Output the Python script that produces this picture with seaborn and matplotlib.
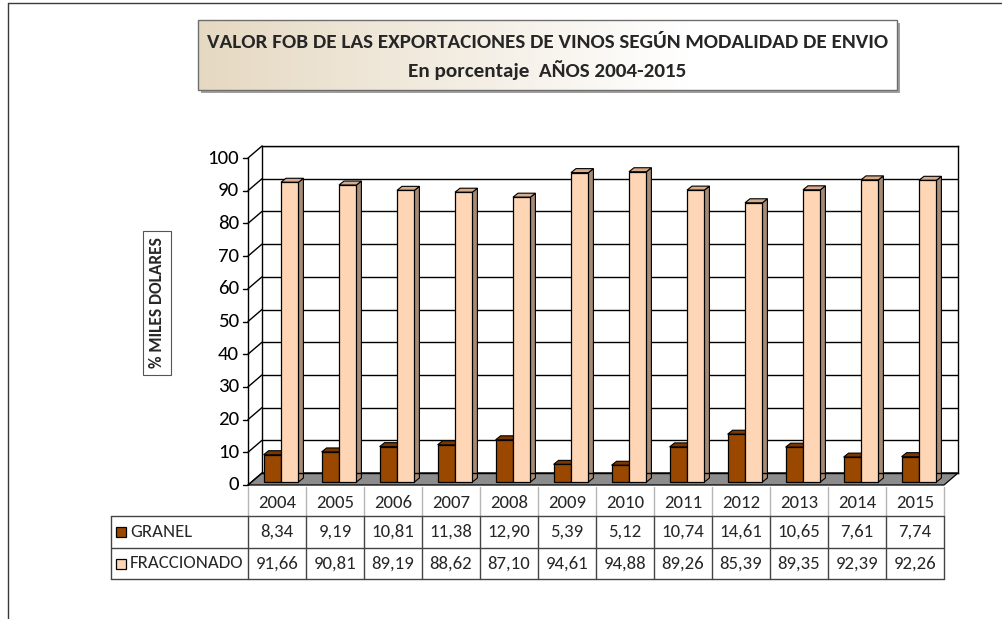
import matplotlib
matplotlib.use('Agg')
import matplotlib.pyplot as plt
import seaborn as sns
import pandas as pd
import numpy as np
from matplotlib import font_manager
from matplotlib.patches import Polygon, Rectangle
from matplotlib.transforms import ScaledTranslation
from matplotlib.colors import to_hex

# ---------------- data ----------------
years = ['2004', '2005', '2006', '2007', '2008', '2009', '2010', '2011', '2012', '2013', '2014', '2015']
granel = [8.34, 9.19, 10.81, 11.38, 12.90, 5.39, 5.12, 10.74, 14.61, 10.65, 7.61, 7.74]
fraccionado = [91.66, 90.81, 89.19, 88.62, 87.10, 94.61, 94.88, 89.26, 85.39, 89.35, 92.39, 92.26]
series = ['GRANEL', 'FRACCIONADO']
yticks = list(range(0, 101, 10))
title1 = 'VALOR FOB DE LAS EXPORTACIONES DE VINOS SEGÚN MODALIDAD DE ENVIO'
title2 = 'En porcentaje  AÑOS 2004-2015'
ylabel = '% MILES DOLARES'

# ---------------- style ----------------
c_gran = '#9a4800'
c_frac = '#ffd6b5'
top_col = {to_hex(c_gran): '#7a3700', to_hex(c_frac): '#d8ab8b'}
side_col = {to_hex(c_gran): '#6a3000', to_hex(c_frac): '#a68b77'}

sns.set_theme(style='white')
avail = {f.name for f in font_manager.fontManager.ttflist}
fam = next((f for f in ['Carlito', 'Liberation Sans Narrow', 'Liberation Sans'] if f in avail), 'DejaVu Sans')
plt.rcParams['font.family'] = [fam, 'DejaVu Sans']

W, H = 1003, 619
fig = plt.figure(figsize=(W / 100, H / 100), dpi=100)
fig.patch.set_facecolor('white')


def fx(x):
    return x / W


def fy(y):
    return 1 - y / H


# back wall geometry (pixels)
L, R, T, B = 262, 958, 146, 473
DX, DY = 14, 12  # 3D depth of the chart floor/side wall

ax = fig.add_axes([fx(L), fy(B), (R - L) / W, (B - T) / H])
df = pd.DataFrame({
    'year': years * 2,
    'value': granel + fraccionado,
    'serie': [series[0]] * len(years) + [series[1]] * len(years),
})
sns.barplot(data=df, x='year', y='value', hue='serie', palette=[c_gran, c_frac],
            saturation=1, width=0.6, edgecolor='black', linewidth=0.9,
            legend=False, ax=ax, zorder=3)

ax.set_xlim(-0.5, len(years) - 0.5)
ax.set_ylim(0, 100)
ax.set_yticks(yticks)
ax.tick_params(left=False, bottom=False, labelleft=False, labelbottom=False)
ax.set_xlabel('')
ax.set_ylabel('')
ax.grid(axis='y', color='black', lw=1, zorder=0.5)
ax.grid(axis='x', visible=False)
ax.set_axisbelow(True)
for s in ax.spines.values():
    s.set_visible(True)
    s.set_color('black')
    s.set_linewidth(1)

xu = len(years) / (R - L)   # data units per pixel (x)
yu = 100 / (B - T)          # data units per pixel (y)

# shift bars toward the viewer (3D look)
off_bar = ScaledTranslation(-10 / 100, -9 / 100, fig.dpi_scale_trans)
tr_bar = ax.transData + off_bar
dxd, dyd = 5 * xu, 4 * yu
for p in list(ax.patches):
    p.set_transform(tr_bar)
    p.set_clip_on(False)
    x0, w, h = p.get_x(), p.get_width(), p.get_height()
    key = to_hex(p.get_facecolor())
    tc = top_col.get(key, '#888888')
    sc = side_col.get(key, '#666666')
    top = Polygon([(x0, h), (x0 + w, h), (x0 + w + dxd, h + dyd), (x0 + dxd, h + dyd)],
                  closed=True, fc=tc, ec='black', lw=0.8, transform=tr_bar, zorder=2.5, clip_on=False)
    side = Polygon([(x0 + w, 0), (x0 + w + dxd, dyd), (x0 + w + dxd, h + dyd), (x0 + w, h)],
                   closed=True, fc=sc, ec='black', lw=0.8, transform=tr_bar, zorder=2.5, clip_on=False)
    ax.add_patch(side)
    ax.add_patch(top)

x_left, x_right = -0.5, len(years) - 0.5
fxl = x_left - DX * xu   # front axis x (data)
# floor
floor = Polygon([(x_left, 0), (x_right, 0), (x_right - DX * xu, -DY * yu), (fxl, -DY * yu)],
                closed=True, fc='#8c8c8c', ec='black', lw=0.9, zorder=1.5, clip_on=False)
ax.add_patch(floor)
# left side wall + front axis
ax.plot([fxl, fxl], [-DY * yu, 100 - DY * yu], color='black', lw=1, clip_on=False, zorder=2)
for v in yticks:
    ax.plot([fxl, x_left], [v - DY * yu, v], color='black', lw=1, clip_on=False, zorder=2)
    ax.plot([fxl - 5 * xu, fxl], [v - DY * yu, v - DY * yu], color='black', lw=1, clip_on=False, zorder=2)
    ax.text(fxl - 9 * xu, v - DY * yu, str(v), ha='right', va='center', fontsize=15,
            color='black', clip_on=False)

# ---------------- overlay (pixel coords) ----------------
ov = fig.add_axes([0, 0, 1, 1], zorder=5)
ov.set_xlim(0, W)
ov.set_ylim(H, 0)
ov.axis('off')
ov.patch.set_alpha(0)

# outer frame
ov.plot([8, 8], [3, H], color='#3a3a3a', lw=1)
ov.plot([8, W], [3, 3], color='#3a3a3a', lw=1)

# title box with shadow and gradient
bx0, bx1, by0, by1 = 198, 897, 20, 90
ov.add_patch(Rectangle((bx0 + 3, by0 + 3), bx1 - bx0, by1 - by0, fc='#a0a0a0', ec='none', zorder=1))
grad = np.linspace(0, 1, 256)
c0 = np.array([0.90, 0.85, 0.76])
c1 = np.array([1.0, 1.0, 1.0])
tt = np.clip(grad / 0.7, 0, 1)[None, :, None]
img = c0[None, None, :] * (1 - tt) + c1[None, None, :] * tt
ov.imshow(img, extent=(bx0, bx1, by1, by0), aspect='auto', zorder=2)
ov.add_patch(Rectangle((bx0, by0), bx1 - bx0, by1 - by0, fc='none', ec='#6e6e6e', lw=1, zorder=3))
ov.set_xlim(0, W)
ov.set_ylim(H, 0)
ov.text((bx0 + bx1) / 2, 43, title1, ha='center', va='center', fontsize=15.2, fontweight='bold', zorder=4)
ov.text((bx0 + bx1) / 2, 70, title2, ha='center', va='center', fontsize=15.2, fontweight='bold', zorder=4)

# y label
ov.text(157, 303, ylabel, rotation=90, ha='center', va='center', fontsize=12.5, fontweight='bold',
        bbox=dict(boxstyle='square,pad=0.35', fc='white', ec='#555555', lw=0.8))

# data table
tx0 = L - DX
colw = (R - L) / len(years)
lab_x0 = 111
r_head, r1, r2, r3 = 487, 516, 548, 579
light = '#b5b5b5'
dark = '#444444'
for i in range(len(years) + 1):
    xx = tx0 + i * colw
    ov.plot([xx, xx], [r_head, r1], color=light, lw=1)
    ov.plot([xx, xx], [r1, r3], color=dark, lw=1)
ov.plot([lab_x0, lab_x0], [r1, r3], color=dark, lw=1)
for yy in (r1, r2, r3):
    ov.plot([lab_x0, tx0 + len(years) * colw], [yy, yy], color=dark, lw=1)

fs_tab = 13.5
for i, yr in enumerate(years):
    cx = tx0 + (i + 0.5) * colw
    ov.text(cx, (r_head + r1) / 2 + 1, yr, ha='center', va='center', fontsize=fs_tab)
    ov.text(cx, (r1 + r2) / 2, f'{granel[i]:.2f}'.replace('.', ','), ha='center', va='center', fontsize=fs_tab)
    ov.text(cx, (r2 + r3) / 2, f'{fraccionado[i]:.2f}'.replace('.', ','), ha='center', va='center', fontsize=fs_tab)

for (ya, yb), name, col in (((r1, r2), series[0], c_gran), ((r2, r3), series[1], c_frac)):
    cy = (ya + yb) / 2
    ov.add_patch(Rectangle((116, cy - 5), 10, 10, fc=col, ec='black', lw=0.9))
    ov.text(130, cy, name, ha='left', va='center', fontsize=fs_tab)

fig.savefig('out.png', dpi=100, facecolor='white')
